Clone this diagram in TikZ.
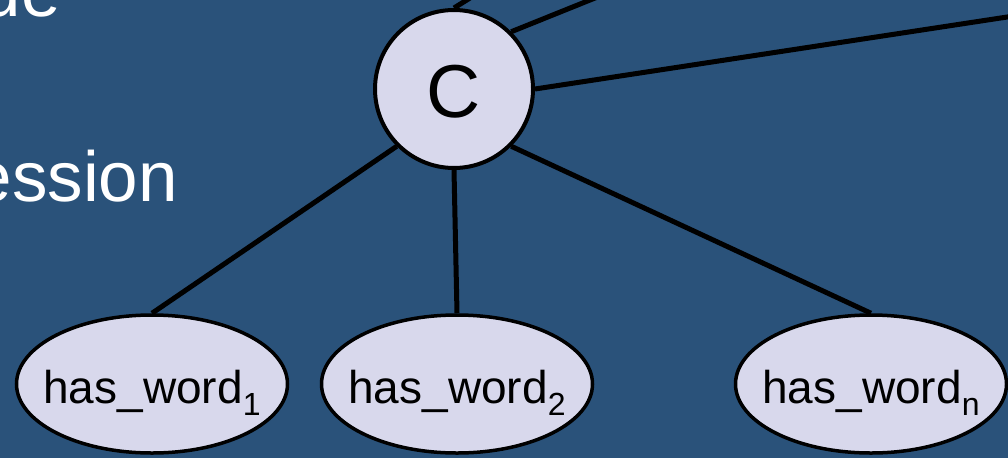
\documentclass[tikz,border=0pt]{standalone}
\usepackage{fontspec}
\setmainfont{Liberation Sans}
\usetikzlibrary{shapes.geometric}
\definecolor{bg}{RGB}{42,82,122}
\definecolor{nodefill}{RGB}{216,216,236}
\begin{document}
\begin{tikzpicture}[x=1pt,y=-1pt,
  conn/.style={line width=5pt, draw=black},
  wordnode/.style={ellipse, draw=black, line width=3.5pt, fill=nodefill,
    minimum width=271pt, minimum height=138pt, inner sep=0pt,
    text height=38pt, text depth=0pt, font=\fontsize{46}{50}\selectfont},
  classnode/.style={circle, draw=black, line width=4pt, fill=nodefill,
    minimum size=158pt, inner sep=0pt, text height=56pt, text depth=0pt,
    font=\fontsize{75}{80}\selectfont},
  bigtext/.style={text=white, font=\fontsize{71}{76}\selectfont,
    inner sep=0pt, anchor=base east}]
\fill[bg] (0,0) rectangle (1008,458);
\useasboundingbox (0,0) rectangle (1008,458);
\begin{scope}
\clip (0,0) rectangle (1008,458);
\node[bigtext] (t1) at (61,16) {ue};
\node[bigtext] (t2) at (178,201) {ession};
\node[classnode] (C) at (454,89) {\makebox[0pt]{C}};
\node[wordnode] (w1) at (152,384) {\makebox[0pt]{has\_word\raisebox{-12pt}{\fontsize{32}{34}\selectfont 1}}};
\node[wordnode] (w2) at (457,384) {\makebox[0pt]{has\_word\raisebox{-12pt}{\fontsize{32}{34}\selectfont 2}}};
\node[wordnode] (wn) at (871,384) {\makebox[0pt]{has\_word\raisebox{-12pt}{\fontsize{32}{34}\selectfont n}}};
\coordinate (r1) at (1040,12);
\coordinate (r2) at (600,-4);
\coordinate (r3) at (470,-2);
\draw[conn] (C.225) -- (w1.north);
\draw[conn] (C.south) -- (w2.north);
\draw[conn] (C.-45) -- (wn.north);
\draw[conn] (C.east) -- (r1);
\draw[conn] (C.45) -- (r2);
\draw[conn] (C.north) -- (r3);
\end{scope}
\end{tikzpicture}
\end{document}
